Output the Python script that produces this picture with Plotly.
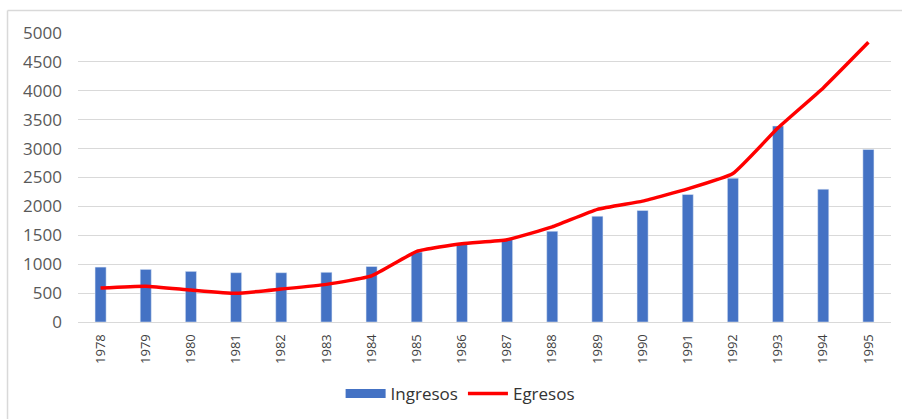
import plotly.graph_objects as go

years = ["1978","1979","1980","1981","1982","1983","1984","1985","1986","1987",
         "1988","1989","1990","1991","1992","1993","1994","1995"]
ingresos = [950, 910, 876, 853, 853, 860, 960, 1210, 1355, 1425,
            1570, 1830, 1930, 2206, 2488, 3390, 2298, 2984]
egresos = [587, 620, 553, 496, 570, 651, 797, 1221, 1355, 1424,
           1645, 1948, 2091, 2304, 2569, 3360, 4050, 4839]
yticks = [0, 500, 1000, 1500, 2000, 2500, 3000, 3500, 4000, 4500, 5000]

BLUE = "#4472C4"
RED = "#FF0000"

fig = go.Figure()
fig.add_trace(go.Bar(x=years, y=ingresos, name="Ingresos", marker_color=BLUE,
                     showlegend=False))
# legend proxy for the bar series (wide flat swatch like the reference)
fig.add_trace(go.Scatter(x=[years[0]], y=[None], mode="lines", name="Ingresos",
                         line=dict(color=BLUE, width=9)))
fig.add_trace(go.Scatter(x=years, y=egresos, mode="lines", name="Egresos",
                         line=dict(color=RED, width=3.5, shape="spline", smoothing=0.4)))

fig.update_layout(
    width=902, height=419,
    margin=dict(l=78, r=11, t=33, b=97),
    paper_bgcolor="white", plot_bgcolor="white",
    bargap=0.755,
    font=dict(family="Open Sans", color="#595959"),
    legend=dict(orientation="h", xref="paper", x=0.47, xanchor="center",
                yref="container", y=0.06, yanchor="middle",
                font=dict(size=17, color="#333333"), itemwidth=40,
                traceorder="normal"),
    shapes=[
        dict(type="line", xref="paper", yref="paper", x0=-0.0867, x1=1.02,
             y0=1.078, y1=1.078, line=dict(color="#d9d9d9", width=1.5)),
        dict(type="line", xref="paper", yref="paper", x0=-0.0867, x1=-0.0867,
             y0=1.078, y1=-0.34, line=dict(color="#d9d9d9", width=1.5)),
    ],
)
fig.update_yaxes(range=[0, 5000], tickvals=yticks, showgrid=True, gridcolor="#d9d9d9",
                 gridwidth=1, zeroline=False, showline=False,
                 tickfont=dict(size=17, color="#595959"), ticklabelstandoff=15)
fig.update_xaxes(type="category", tickangle=-90, showline=True, linecolor="#d9d9d9",
                 linewidth=1, tickfont=dict(size=13, color="#404040"),
                 ticks="", ticklabelstandoff=6)

fig.write_html("out.html")
